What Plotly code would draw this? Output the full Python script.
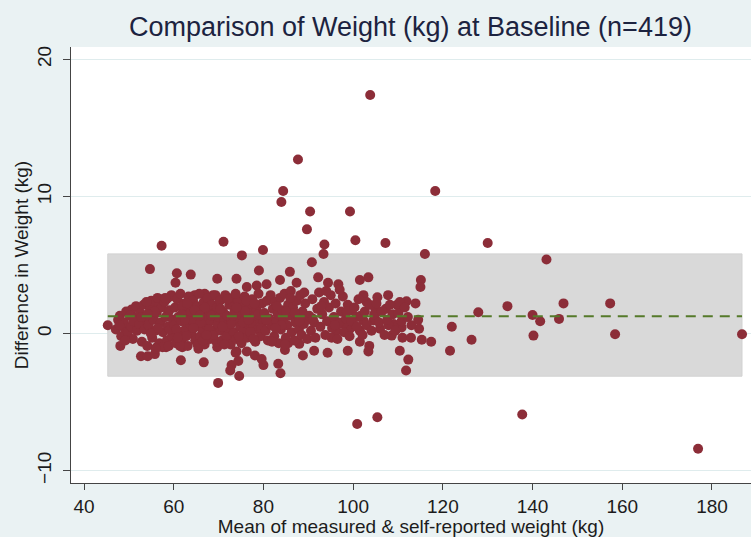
import plotly.graph_objects as go

# ---- Data ----
# Outliers / edge points
edge_mean = [103.8, 87.7, 84.4, 84.0, 90.4, 99.3, 118.3, 89.7, 100.5, 107.2, 130.0, 71.1, 57.3, 79.9, 75.2,
             93.6, 93.4, 116.0, 143.1, 54.7, 60.7, 60.4, 63.8, 69.7, 74.0, 90.8, 79.0, 85.9, 92.2, 103.4,
             101.5, 96.7, 94.4, 87.4, 80.7, 83.7, 76.3, 78.5, 115.1, 115.0,
             64.7, 66.9, 68.8, 73.7, 70.7, 59.5, 58.4,
             102.3, 105.4, 107.8, 109.8, 111.9, 113.9, 103.0, 104.9, 107.3, 99.7, 100.8, 102.3, 104.5, 106.0,
             109.0, 110.8, 101.5, 99.3, 97.8, 96.3, 95.2, 110.4,
             127.9, 134.4, 140.0, 141.7, 145.9, 146.9, 140.2, 110.4, 114.7, 122.0, 111.0, 112.9, 115.3, 117.4,
             126.4, 121.6, 110.4, 112.3, 111.8,
             157.3, 158.4, 186.7, 176.9, 137.7, 100.9, 105.4,
             45.3, 48.1, 52.7, 54.2, 55.8, 56.2, 58.3, 61.6, 61.9, 66.7, 69.9, 72.9, 74.6, 69.7, 72.2, 50.6,
             48.0, 49.1, 53.6, 55.1, 56.6, 58.8,
             65.5, 66.9, 74.0, 76.3, 74.4, 72.6, 73.8, 78.1, 80.0, 79.6, 83.3, 83.8, 84.8, 85.5, 88.0, 88.8,
             91.3, 94.3, 98.8, 101.5, 103.6, 103.4, 107.9, 108.6, 110.0, 104.9]
edge_diff = [17.4, 12.7, 10.4, 9.6, 8.9, 8.9, 10.4, 7.6, 6.8, 6.6, 6.6, 6.7, 6.4, 6.1, 5.7,
             6.5, 5.8, 5.8, 5.4, 4.7, 4.4, 3.7, 4.3, 4.0, 4.0, 5.2, 4.6, 4.5, 4.1, 4.1,
             3.9, 3.6, 3.7, 3.7, 3.6, 3.9, 3.4, 3.5, 3.9, 3.4,
             2.8, 2.9, 2.8, 2.65, 2.5, 2.8, 2.5,
             2.8, 2.65, 2.8, 2.1, 2.35, 2.2, 2.3, 1.85, 1.8, 1.7, 1.2, 0.95, 0.95, 0.35,
             0.7, 0.45, 0.2, 0.35, 0.7, 0.2, -0.3, 2.3,
             1.55, 2.0, 1.35, 0.9, 1.07, 2.2, -0.15, 0.6, 0.35, 0.5, -0.3, -0.3, -0.45, -0.6,
             -0.45, -1.25, -1.25, -1.9, -2.7,
             2.2, -0.05, -0.05, -8.4, -5.9, -6.6, -6.1,
             0.6, -0.9, -1.65, -1.65, -1.5, -1.0, -1.0, -1.95, -1.0, -2.1, -3.6, -2.3, -3.1, -1.0, -0.2, 1.75,
             1.3, 0.35, 1.07, 1.9, 2.2, 1.55,
             -1.1, -0.6, -1.3, -1.3, -2.0, -2.7, -1.4, -1.6, -2.3, -1.85, -2.2, -2.9, -1.2, -0.7, -0.75, -1.6,
             -1.25, -1.4, -1.25, -0.6, -0.9, -1.3, 0.6, -0.15, 0.6, 1.07]

# Dense central cluster
core_mean = [47.1, 47.6, 48.3, 48.9, 49.4, 49.8, 50.5, 50.9, 51.3, 51.8, 51.6, 47.9, 49.2, 50.2, 51.0,
             52.3, 52.6, 52.9, 53.3, 53.5, 53.8, 54.1, 54.4, 54.7, 55.0, 55.2, 55.5, 55.9, 56.2, 56.4, 56.8,
             57.1, 57.3, 57.6, 57.9, 58.2, 58.5, 58.7, 59.0, 59.3, 59.6, 59.8, 52.8, 53.9, 54.9, 55.7, 56.5,
             57.5, 58.1, 59.1, 56.0, 54.2, 58.9,
             60.1, 60.3, 60.5, 60.8, 61.0, 61.2, 61.5, 61.7, 61.9, 62.2, 62.4, 62.6, 62.9, 63.1, 63.3, 63.6,
             63.8, 64.0, 64.3, 64.5, 64.8, 65.0, 65.2, 65.5, 65.7, 65.9, 66.2, 66.4, 66.7, 66.9, 67.1, 67.4,
             67.6, 67.8, 68.1, 68.3, 68.6, 68.8, 69.0, 69.3, 69.5, 69.8, 60.6, 61.4, 62.0, 62.8, 63.4, 64.2,
             65.3, 66.0, 66.9, 67.9, 68.9, 69.6, 61.8, 63.0, 64.7, 66.5, 68.4, 60.9, 62.5, 64.4, 65.8, 67.3,
             70.1, 70.3, 70.5, 70.8, 71.0, 71.2, 71.5, 71.7, 71.9, 72.2, 72.4, 72.7, 72.9, 73.1, 73.4, 73.6,
             73.9, 74.1, 74.3, 74.6, 74.8, 75.1, 75.3, 75.6, 75.8, 76.0, 76.3, 76.5, 76.8, 77.0, 77.2, 77.5,
             77.7, 77.9, 78.2, 78.4, 78.7, 78.9, 79.2, 79.4, 79.7, 79.9, 70.4, 71.3, 72.0, 72.8, 73.8, 74.5,
             75.4, 76.2, 77.1, 78.0, 78.8, 79.5, 70.9, 73.2, 75.9, 77.8, 74.0, 76.7,
             80.2, 80.5, 80.8, 81.0, 81.3, 81.6, 81.8, 82.1, 82.4, 82.6, 82.9, 83.2, 83.4, 83.7, 83.9, 84.2,
             84.5, 84.7, 85.0, 85.3, 85.5, 85.8, 86.1, 86.3, 86.6, 86.9, 87.1, 87.4, 87.7, 87.9, 88.2, 88.5,
             88.7, 89.0, 89.3, 89.6, 89.8, 80.6, 81.9, 83.0, 84.0, 85.1, 86.0, 87.0, 88.0, 89.1, 82.7, 84.8,
             90.2, 90.6, 90.9, 91.3, 91.6, 92.0, 92.4, 92.7, 93.1, 93.5, 93.8, 94.2, 94.6, 95.0, 95.3, 95.7,
             96.1, 96.5, 96.9, 97.3, 97.7, 98.0, 98.4, 98.8, 99.2, 99.6, 91.0, 92.9, 94.0, 95.9, 97.0, 98.6,
             100.3, 100.8, 101.2, 101.7, 102.1, 102.6, 103.0, 103.6, 104.1, 104.7, 105.2, 105.8, 106.4,
             107.0, 107.6, 108.2, 108.8, 109.4, 110.1, 110.8, 111.5, 112.2, 113.0, 114.5]
core_diff = [0.3, 1.0, -0.2, 0.8, 1.6, 0.1, 0.5, -0.4, 1.2, 0.2, 2.0, 0.6, -0.5, 1.3, 0.9,
             0.7, 1.5, -0.6, 2.1, 0.3, 1.1, -0.9, 0.6, 1.8, 2.4, -0.3, 1.0, 0.2, 1.5, 2.6, -0.7,
             0.8, 1.9, 0.1, 2.3, 1.2, -0.5, 0.5, 1.7, 2.7, -0.2, 1.0, 1.2, 2.3, 0.0, 1.6, 0.4,
             -1.0, 2.6, 0.3, -1.1, 1.4, -0.9,
             0.6, 1.9, -0.7, 2.5, 1.2, 0.1, 2.9, 0.9, -0.4, 1.6, 2.2, 0.3, 1.1, -0.9, 2.7, 0.7,
             1.8, 0.0, 2.4, 1.3, -0.5, 0.5, 2.0, 1.0, 2.9, -0.2, 1.5, 0.3, 2.3, -0.8, 1.1, 0.6,
             2.6, 1.7, -0.4, 0.9, 2.1, 0.2, 1.4, 2.8, -0.6, 0.7, 0.3, -0.9, 2.0, -0.2, 1.4, 0.9,
             -0.8, 0.8, 1.9, 0.3, -0.1, 1.9, 1.4, 2.2, 1.7, -0.5, 1.3, -0.3, 1.0, 0.4, 1.3, -0.1,
             1.2, 2.4, 0.2, -0.5, 1.6, 0.8, 2.8, -0.2, 1.3, 0.4, 2.1, -0.8, 1.0, 2.6, 0.1, 1.7,
             -0.4, 0.9, 2.3, 1.4, 0.5, -0.7, 1.9, 0.2, 2.7, 1.1, -0.3, 0.7, 2.0, 1.5, -0.1, 2.5,
             0.6, 1.2, -0.6, 1.8, 0.3, 2.9, 1.0, -0.2, 2.2, 0.8, 1.8, -0.8, 2.5, 0.7, 2.9, -0.2,
             0.8, 2.4, 0.1, 2.2, 1.4, 0.4, 0.5, 1.3, 1.6, -0.4, 1.9, 1.0,
             1.5, 0.2, 2.4, -0.5, 1.1, 2.8, 0.6, 1.8, -0.2, 2.3, 0.9, 1.4, -0.7, 2.6, 0.3, 1.7,
             1.0, 2.9, -0.3, 0.6, 2.1, 1.3, 3.1, 0.1, 1.9, -0.5, 0.8, 2.4, 1.2, 0.3, 2.8, -0.1,
             1.6, 0.7, 2.2, 1.0, -0.4, 1.0, -0.6, 2.0, 0.6, 1.6, 2.6, 1.5, 0.9, 3.0, 0.4, -0.8,
             1.3, 0.2, 2.5, 0.8, -0.3, 1.8, 3.0, 0.5, 1.4, 2.3, -0.1, 0.9, 1.9, 2.8, 0.4, 1.2,
             2.2, -0.4, 0.8, 1.6, 2.7, 0.1, 1.1, 2.1, -0.2, 0.9, 1.1, 2.0, 3.1, 0.6, 3.2, 1.6,
             1.9, 0.5, 2.5, 1.3, -0.1, 1.6, 0.6, 2.1, 0.2, 1.4, 2.2, 0.8, 1.6,
             -0.1, 1.0, 2.1, 1.4, 0.2, 1.5, 0.9, 1.9, 1.2, 0.6, 1.0]

mean_weight = edge_mean + core_mean
diff_weight = edge_diff + core_diff

mean_difference = 1.27      # dashed line
loa_upper = 5.81            # upper limit of agreement
loa_lower = -3.11           # lower limit of agreement

x_ticks = [40, 60, 80, 100, 120, 140, 160, 180]
y_ticks = [-10, 0, 10, 20]

title_text = "Comparison of Weight (kg) at Baseline (n=419)"
x_title = "Mean of measured &amp; self-reported weight (kg)"
y_title = "Difference in Weight (kg)"

# ---- Figure ----
FONT = "Liberation Sans, Arial, sans-serif"
x_lo, x_hi = min(mean_weight), max(mean_weight)

fig = go.Figure()

fig.add_shape(type="rect", xref="x", yref="y",
              x0=x_lo, x1=x_hi, y0=loa_lower, y1=loa_upper,
              fillcolor="#d9d9d9", line=dict(color="#d2d2d2", width=1), layer="between")

fig.add_trace(go.Scatter(
    x=mean_weight, y=diff_weight, mode="markers",
    marker=dict(color="#8c2d38", size=10, line=dict(width=0)),
    showlegend=False, hoverinfo="x+y"))

fig.add_trace(go.Scatter(
    x=[x_lo, x_hi], y=[mean_difference, mean_difference], mode="lines",
    line=dict(color="#557a2a", width=2, dash="10px,7px"),
    showlegend=False, hoverinfo="skip"))

fig.update_layout(
    width=751, height=537,
    margin=dict(l=71, r=0, t=47, b=54),
    paper_bgcolor="#eaf2f3", plot_bgcolor="#ffffff",
    font=dict(family=FONT, size=19, color="#1c1c1c"),
    title=dict(text=title_text, x=0.5465, xanchor="center", y=0.95, yanchor="middle",
               font=dict(family=FONT, size=27, color="#1c2340")),
)

fig.update_xaxes(
    range=[37.1, 188.7], tickvals=x_ticks, showgrid=False, zeroline=False,
    showline=True, linecolor="#444444", linewidth=1,
    ticks="outside", ticklen=6, tickcolor="#444444",
    tickfont=dict(size=19, color="#1c1c1c"),
    title=dict(text=x_title, font=dict(size=19, color="#1c1c1c"), standoff=2),
)
fig.update_yaxes(
    range=[-10.9, 20.9], tickvals=y_ticks, showgrid=True, gridcolor="#dfeced", gridwidth=1,
    zeroline=False, showline=True, linecolor="#444444", linewidth=1,
    ticks="outside", ticklen=7, tickcolor="#444444", tickangle=-90, ticklabelstandoff=4,
    tickfont=dict(size=19, color="#1c1c1c"),
    title=dict(text=y_title, font=dict(size=19, color="#1c1c1c"), standoff=0),
)

fig.write_html("out.html", config={"displayModeBar": False},
               post_script="document.body.style.margin='0';")
